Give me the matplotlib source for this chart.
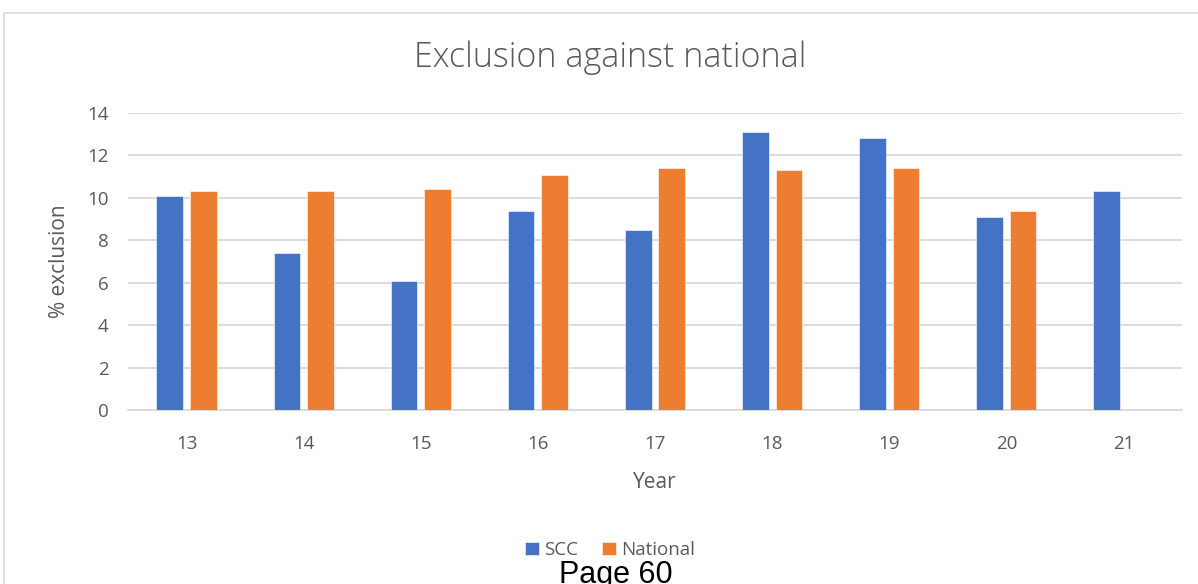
import numpy as np
import matplotlib.pyplot as plt
from matplotlib.patches import Rectangle

years = ['13', '14', '15', '16', '17', '18', '19', '20', '21']
scc = [10.1, 7.4, 6.1, 9.4, 8.5, 13.1, 12.8, 9.1, 10.3]
national = [10.3, 10.3, 10.4, 11.1, 11.4, 11.3, 11.4, 9.4, np.nan]

plt.rcParams['font.family'] = ['Open Sans', 'DejaVu Sans']
grey = '#595959'

fig = plt.figure(figsize=(11.98, 5.84), dpi=100)
W, H = 1198, 584

# chart frame
fig.patches.append(Rectangle((4 / W, -0.1), 1.2, 1 - 13 / H + 0.1,
                             transform=fig.transFigure, fill=False,
                             edgecolor='#d9d9d9', linewidth=1.2))

ax = fig.add_axes([128 / W, 1 - 410 / H, (1182 - 128) / W, (410 - 113) / H])
x = np.arange(len(years))
bw = 0.228
gap = 0.058
ax.bar(x - (bw + gap) / 2, scc, bw, color='#4472C4', edgecolor='white',
       linewidth=0.4, label='SCC', zorder=3)
ax.bar(x + (bw + gap) / 2, national, bw, color='#ED7D31', edgecolor='white',
       linewidth=0.4, label='National', zorder=3)

ax.set_xlim(-0.5, len(years) - 0.5)
ax.set_ylim(0, 14)
ax.set_yticks(range(0, 15, 2))
ax.set_xticks(x)
ax.set_xticklabels(years)
ax.yaxis.grid(True, color='#d9d9d9', linewidth=1.3, zorder=0)
for s in ['top', 'right', 'left']:
    ax.spines[s].set_visible(False)
ax.spines['bottom'].set_color('#d9d9d9')
ax.spines['bottom'].set_linewidth(1.3)
ax.tick_params(length=0, colors=grey, labelsize=13.5)
ax.tick_params(axis='x', pad=18)
ax.tick_params(axis='y', pad=14)

ax.set_ylabel('% exclusion', color=grey, fontsize=15, labelpad=12)
ax.set_xlabel('Year', color=grey, fontsize=15, labelpad=14)
fig.text(610 / W, 1 - 58 / H, 'Exclusion against national', ha='center',
         va='center', color=grey, fontsize=24.5, fontweight='light')

fig.legend(loc='center', bbox_to_anchor=(610 / W, 1 - 550 / H), ncol=2,
           frameon=False, fontsize=13.5, handlelength=0.75, handleheight=0.75,
           handletextpad=0.25, columnspacing=1.3, labelcolor=grey)

fig.text(616 / W, 1 - 575 / H, 'Page 60', ha='center', va='center',
         fontsize=22, color='black', family='Liberation Sans')

fig.savefig('out.png', dpi=100)
